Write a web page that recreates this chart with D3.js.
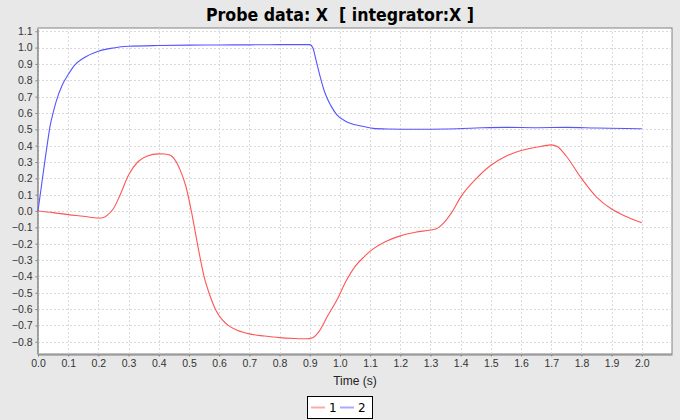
<!DOCTYPE html>
<html><head><meta charset="utf-8">
<script src="https://cdn.jsdelivr.net/npm/d3@7"></script>
<style>html,body{margin:0;padding:0;background:#e8e8e8;}svg{display:block;}</style>
</head><body>
<svg id="c" width="680" height="420"></svg>
<script>
const title = "Probe data: X  [ integrator:X ]";
const xLabel = "Time (s)";
const seriesNames = ["1", "2"];
const seriesColors = ["#ff5555", "#5555ff"];

const t1 = [0.00,0.05,0.10,0.15,0.20,0.215,0.23,0.25,0.27,0.30,0.33,0.36,0.40,0.42,0.44,0.45,0.47,0.49,0.51,0.53,0.55,0.57,0.59,0.61,0.63,0.66,0.70,0.75,0.80,0.85,0.89,0.91,0.93,0.96,0.99,1.02,1.05,1.08,1.11,1.15,1.20,1.25,1.30,1.32,1.34,1.37,1.40,1.45,1.50,1.55,1.60,1.65,1.70,1.72,1.75,1.80,1.85,1.90,1.95,2.00];
const v1 = [0.000,-0.010,-0.022,-0.032,-0.043,-0.041,-0.025,0.015,0.090,0.220,0.300,0.335,0.350,0.349,0.340,0.322,0.255,0.150,-0.020,-0.220,-0.400,-0.520,-0.610,-0.665,-0.700,-0.730,-0.752,-0.765,-0.775,-0.780,-0.782,-0.775,-0.740,-0.640,-0.545,-0.430,-0.340,-0.280,-0.232,-0.188,-0.152,-0.130,-0.116,-0.108,-0.080,-0.010,0.085,0.195,0.280,0.335,0.370,0.390,0.405,0.395,0.335,0.200,0.085,0.012,-0.035,-0.072];

const t2 = [0.00,0.02,0.03,0.04,0.05,0.06,0.08,0.10,0.12,0.15,0.20,0.25,0.30,0.40,0.50,0.60,0.70,0.80,0.90,0.91,0.92,0.935,0.95,0.97,0.99,1.02,1.07,1.11,1.16,1.25,1.35,1.45,1.55,1.65,1.75,1.85,1.95,2.00];
const v2 = [0.000,0.270,0.400,0.520,0.600,0.670,0.770,0.835,0.890,0.935,0.978,0.998,1.008,1.013,1.015,1.016,1.017,1.018,1.018,1.000,0.930,0.820,0.725,0.645,0.588,0.548,0.520,0.506,0.502,0.500,0.502,0.508,0.512,0.510,0.512,0.508,0.505,0.503];

const xTicks = d3.range(0, 21).map(i => i / 10);
const yTicks = d3.range(-8, 12).map(i => i / 10);

const svg = d3.select("#c");
const L = 38, R = 672, T = 28, B = 354;
const x = d3.scaleLinear().domain([0, 2.1]).range([L, R]);
const y = d3.scaleLinear().domain([-0.875, 1.12]).range([B, T]);

svg.append("rect").attr("width", 680).attr("height", 420).attr("fill", "#e8e8e8");
svg.append("rect").attr("x", L).attr("y", T).attr("width", R - L).attr("height", B - T)
  .attr("fill", "#fff").attr("stroke", "#808080").attr("stroke-width", 1);

const grid = svg.append("g").attr("stroke", "#dadada").attr("stroke-width", 1).attr("stroke-dasharray", "2,2");
xTicks.forEach(t => grid.append("line").attr("x1", Math.round(x(t)) + 0.5).attr("x2", Math.round(x(t)) + 0.5).attr("y1", T).attr("y2", B));
yTicks.forEach(t => grid.append("line").attr("y1", Math.round(y(t)) + 0.5).attr("y2", Math.round(y(t)) + 0.5).attr("x1", L).attr("x2", R));

const fmt = d => (d < 0 ? "\u2212" : "") + Math.abs(d).toFixed(1);
const xa = svg.append("g").attr("transform", `translate(0,${B + 0.5})`)
  .call(d3.axisBottom(x).tickValues(xTicks).tickFormat(fmt).tickSize(2).tickSizeOuter(0));
const ya = svg.append("g").attr("transform", `translate(${L - 0.5},0)`)
  .call(d3.axisLeft(y).tickValues(yTicks).tickFormat(fmt).tickSize(2).tickSizeOuter(0));
[xa, ya].forEach(a => {
  a.selectAll("path.domain").attr("stroke", "#808080");
  a.selectAll(".tick line").attr("stroke", "#808080");
  a.selectAll("text").attr("fill", "#333").style("font-family", "'Liberation Sans', Arial, sans-serif").style("font-size", "10.5px");
});
xa.selectAll("text").attr("y", 5);
ya.selectAll("text").attr("x", -5);

const line = d3.line().x(d => x(d[0])).y(d => y(d[1])).curve(d3.curveMonotoneX);
const plotG = svg.append("g");
plotG.append("path").datum(t1.map((t, i) => [t, v1[i]])).attr("d", line)
  .attr("fill", "none").attr("stroke", seriesColors[0]).attr("stroke-width", 1.1);
plotG.append("path").datum(t2.map((t, i) => [t, v2[i]])).attr("d", line)
  .attr("fill", "none").attr("stroke", seriesColors[1]).attr("stroke-width", 1.1);

const tt = svg.append("text").attr("x", 340).attr("y", 21).attr("text-anchor", "middle")
  .attr("xml:space", "preserve").style("white-space", "pre")
  .style("font-family", "'DejaVu Sans Condensed', 'DejaVu Sans', sans-serif").style("font-weight", "bold")
  .style("font-size", "18px").attr("fill", "#000").text(title);
const w = tt.node().getComputedTextLength();
tt.style("font-size", Math.min(19, 18 * 268 / w).toFixed(2) + "px");

svg.append("text").attr("x", (L + R) / 2).attr("y", 385).attr("text-anchor", "middle")
  .style("font-family", "'Liberation Sans', Arial, sans-serif").style("font-size", "12px").attr("fill", "#222").text(xLabel);

const lg = svg.append("g");
lg.append("rect").attr("x", 307.5).attr("y", 396.5).attr("width", 65).attr("height", 22)
  .attr("fill", "#fff").attr("stroke", "#000").attr("stroke-width", 1);
const items = [{x: 311}, {x: 340}];
seriesNames.forEach((n, i) => {
  const ix = items[i].x;
  lg.append("line").attr("x1", ix).attr("x2", ix + 14).attr("y1", 407.5).attr("y2", 407.5)
    .attr("stroke", seriesColors[i]).attr("stroke-opacity", 0.5).attr("stroke-width", 2);
  lg.append("text").attr("x", ix + 18).attr("y", 412).style("font-family", "'DejaVu Sans', sans-serif")
    .style("font-size", "12px").attr("fill", "#000").text(n);
});
</script>
</body></html>
